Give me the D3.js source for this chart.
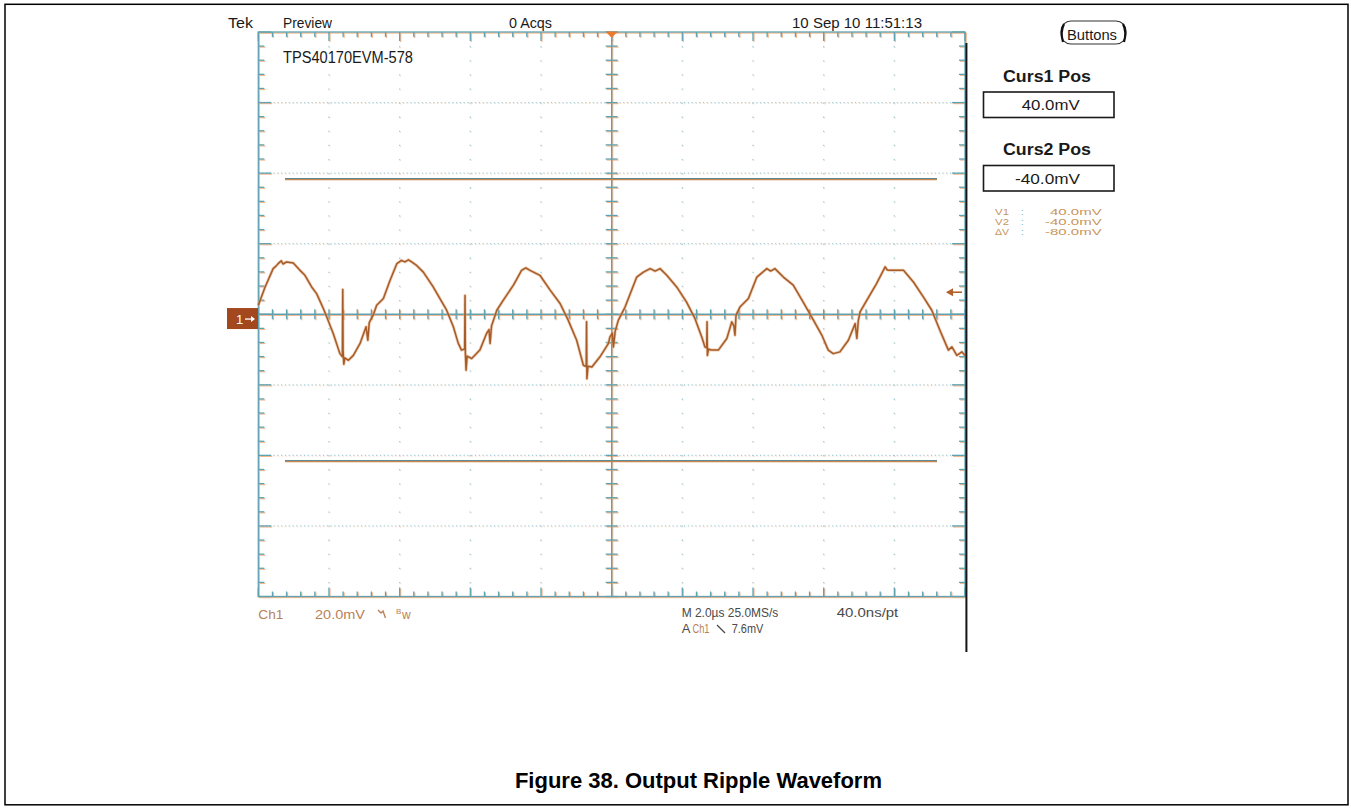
<!DOCTYPE html>
<html><head><meta charset="utf-8">
<script src="https://cdn.jsdelivr.net/npm/d3@7"></script>
<style>body{margin:0;background:#fff}svg{display:block}</style>
</head><body>
<svg id="c" width="1351" height="808"></svg>
<script>
// ---- data (read from the scope capture) ----
const TIME_US = [-10.00,-9.81,-9.58,-9.50,-9.44,-9.35,-9.30,-9.20,-9.01,-8.82,-8.68,-8.49,-8.35,-8.16,-8.07,-7.88,-7.69,-7.62,-7.61,-7.60,-7.58,-7.55,-7.45,-7.31,-7.12,-6.95,-6.90,-6.86,-6.75,-6.65,-6.46,-6.27,-6.08,-5.95,-5.85,-5.75,-5.66,-5.52,-5.33,-5.05,-4.86,-4.67,-4.48,-4.34,-4.25,-4.16,-4.15,-4.14,-4.12,-4.09,-3.96,-3.73,-3.54,-3.47,-3.44,-3.40,-3.25,-3.07,-2.78,-2.55,-2.43,-2.31,-2.03,-1.74,-1.46,-1.23,-0.99,-0.80,-0.72,-0.71,-0.70,-0.67,-0.56,-0.33,-0.09,-0.05,0.02,0.05,0.10,0.19,0.38,0.71,0.90,1.09,1.23,1.37,1.56,1.84,2.12,2.36,2.55,2.64,2.69,2.70,2.71,2.74,2.83,3.02,3.26,3.40,3.46,3.49,3.52,3.63,3.87,4.11,4.39,4.50,4.62,4.86,5.14,5.42,5.71,5.95,6.13,6.27,6.46,6.70,6.89,6.94,6.98,7.03,7.22,7.50,7.74,7.80,7.88,8.26,8.54,8.82,9.06,9.29,9.53,9.63,9.77,9.91,10.00];
const CH1_MV  = [3.9,9.0,14.3,15.0,15.7,16.5,15.6,16.2,15.9,13.8,12.4,9.1,7.2,3.0,0.8,-4.1,-9.8,-10.7,8.4,-9.0,-12.8,-11.0,-11.7,-10.3,-6.9,-2.2,-6.0,-1.0,1.1,3.9,5.8,11.0,15.7,16.6,16.2,16.8,16.2,15.2,13.3,9.1,5.8,2.5,-2.2,-6.9,-8.8,-8.5,6.7,-9.4,-14.5,-10.5,-11.2,-8.8,-4.1,-3.0,-6.9,-2.0,2.5,5.3,9.6,13.8,14.5,13.8,12.4,8.2,4.4,-0.3,-6.0,-13.1,-13.5,-0.8,-16.9,-13.4,-13.6,-10.7,-6.9,-5.1,-4.0,-7.9,-3.5,-0.3,3.4,11.9,13.3,14.3,13.6,14.3,12.4,9.1,4.8,0.1,-5.1,-7.9,-8.2,-0.8,-10.3,-8.5,-8.8,-8.8,-5.5,-0.8,-2.0,-4.6,1.1,3.4,5.8,11.9,14.3,13.6,14.3,11.9,9.6,4.8,-0.3,-4.6,-8.8,-9.8,-9.3,-6.0,-1.3,-5.5,-0.5,2.0,5.3,10.1,14.8,13.9,13.8,13.8,10.5,6.3,2.5,-3.2,-8.8,-7.9,-10.3,-9.3,-10.3];
const CURSOR_MV = [40, -40];
const TRIG_MV = 7.6;
const CH1_CENTER_MV = 1.36;        // ground sits slightly below graticule centre
const MV_PER_DIV = 20, US_PER_DIV = 2;
const HEADER = ["Tek", "Preview", "0 Acqs", "10 Sep 10 11:51:13"];
const NOTE = "TPS40170EVM-578";
const READOUT_LABELS = ["V1", "V2", "\u0394V"];
const READOUT_VALUES = ["40.0mV", "-40.0mV", "-80.0mV"];
const CAPTION = "Figure 38. Output Ripple Waveform";

// ---- layout ----
const L = 258.3, R = 965, T = 32, B = 596.5;
const svg = d3.select("#c");
const FONT = "'Liberation Sans', Arial, Helvetica, sans-serif";
const TEAL = "#5fa2b2", FRINGE = "#f3b890", TRACE = "#a65c28";

const x = d3.scaleLinear().domain([-5 * US_PER_DIV, 5 * US_PER_DIV]).range([L, R]);
const gy = d3.scaleLinear().domain([-4, 4]).range([B, T]);
const y = d3.scaleLinear().domain([CH1_CENTER_MV - 4 * MV_PER_DIV, CH1_CENTER_MV + 4 * MV_PER_DIV]).range([B, T]);

// page border
svg.append("rect").attr("x", 5).attr("y", 4.3).attr("width", 1343).attr("height", 800.5)
  .attr("fill", "none").attr("stroke", "#000").attr("stroke-width", 1.5);

function txt(px, py, s, o = {}) {
  const t = svg.append("text").attr("x", px).attr("y", py).text(s)
    .attr("font-family", FONT).attr("font-size", o.size || 14)
    .attr("font-weight", o.weight || "normal").attr("fill", o.fill || "#1a1a1a")
    .attr("text-anchor", o.anchor || "start");
  if (o.len) t.attr("textLength", o.len).attr("lengthAdjust", "spacingAndGlyphs");
  return t;
}

const g = svg.append("g");
const majX = d3.range(-10, 10.001, 2), minX = d3.range(-10, 10.001, 0.4);
const majY = d3.range(-4, 4.001, 1), minY = d3.range(-4, 4.001, 0.2);

// dotted interior grid
[g.append("g").attr("transform", "translate(0.8,0.8)").attr("stroke", FRINGE).attr("opacity", 0.4),
 g.append("g").attr("stroke", "#a6ced8")].forEach(layer => {
  majX.filter(v => Math.abs(v) > 0.01 && Math.abs(Math.abs(v) - 10) > 0.01).forEach(v =>
    layer.append("line").attr("x1", x(v)).attr("x2", x(v)).attr("y1", T).attr("y2", B)
      .attr("stroke-width", 1.3).attr("stroke-dasharray", "1.3,12.8"));
  majY.filter(v => Math.abs(v) > 0.01 && Math.abs(Math.abs(v) - 4) > 0.01).forEach(v =>
    layer.append("line").attr("x1", L).attr("x2", R).attr("y1", gy(v)).attr("y2", gy(v))
      .attr("stroke-width", 1.2).attr("stroke-dasharray", "1.2,2.6"));
});

// solid frame, centre cross and ticks (with slight orange fringe like the scan)
function drawGrat(layer, col, dx) {
  const s = layer.append("g").attr("transform", `translate(${dx},${dx})`).attr("stroke", col).attr("stroke-width", 1.3).attr("fill", "none");
  s.append("rect").attr("x", L).attr("y", T).attr("width", R - L).attr("height", B - T);
  s.append("line").attr("x1", L).attr("x2", R).attr("y1", gy(0)).attr("y2", gy(0));
  s.append("line").attr("x1", x(0)).attr("x2", x(0)).attr("y1", T).attr("y2", B);
  minX.forEach(v => {
    const isMaj = majX.some(m => Math.abs(m - v) < 1e-6);
    const len = isMaj ? 9 : 5;
    s.append("line").attr("x1", x(v)).attr("x2", x(v)).attr("y1", T).attr("y2", T + len);
    s.append("line").attr("x1", x(v)).attr("x2", x(v)).attr("y1", B).attr("y2", B - len);
    s.append("line").attr("x1", x(v)).attr("x2", x(v)).attr("y1", gy(0) - 5).attr("y2", gy(0) + 5);
  });
  minY.forEach(v => {
    const isMaj = majY.some(m => Math.abs(m - v) < 1e-6);
    const len = isMaj ? 13 : 6;
    s.append("line").attr("x1", L).attr("x2", L + len).attr("y1", gy(v)).attr("y2", gy(v));
    s.append("line").attr("x1", R).attr("x2", R - len).attr("y1", gy(v)).attr("y2", gy(v));
    s.append("line").attr("x1", x(0) - 6).attr("x2", x(0) + 6).attr("y1", gy(v)).attr("y2", gy(v));
  });
}
drawGrat(g, FRINGE, 1);
drawGrat(g, TEAL, 0);

// cursors (teal line with an orange fringe, as in the scan)
CURSOR_MV.forEach(c => {
  const cy = Math.round(y(c)) + 0.5;
  g.append("line").attr("x1", 285).attr("x2", 937).attr("y1", cy + 1).attr("y2", cy + 1)
    .attr("stroke", "#c98450").attr("stroke-width", 1.4);
  g.append("line").attr("x1", 285).attr("x2", 937).attr("y1", cy).attr("y2", cy)
    .attr("stroke", "#5a8d92").attr("stroke-width", 1.1);
});

// trace
const pts = TIME_US.map((t, i) => [t, CH1_MV[i]]);
const line = d3.line().x(d => x(d[0])).y(d => y(d[1]));
g.append("path").attr("d", line(pts)).attr("fill", "none").attr("stroke", "#e0a57a")
  .attr("stroke-width", 3).attr("opacity", 0.6).attr("stroke-linejoin", "round");
g.append("path").attr("d", line(pts)).attr("fill", "none").attr("stroke", TRACE)
  .attr("stroke-width", 1.5).attr("stroke-linejoin", "round");

// trigger position marker (top) and trigger level arrow (right)
g.append("path").attr("d", `M${x(0) - 6},${T - 0.5} L${x(0) + 6},${T - 0.5} L${x(0)},${T + 6} Z`).attr("fill", "#ea7a2e");
const ty = y(TRIG_MV);
g.append("path").attr("d", `M${R - 18},${ty} L${R - 3},${ty}`).attr("stroke", "#b5602c").attr("stroke-width", 1.6);
g.append("path").attr("d", `M${R - 19},${ty} L${R - 12},${ty - 4} L${R - 12},${ty + 4} Z`).attr("fill", "#b5602c");

// channel 1 ground marker
const gy0 = y(0);
svg.append("rect").attr("x", 227).attr("y", gy0 - 11).attr("width", 31).attr("height", 21).attr("fill", "#a3471f");
txt(236, gy0 + 5, "1", { size: 13, fill: "#fff" });
svg.append("path").attr("d", `M245,${gy0} L254,${gy0}`).attr("stroke", "#fff").attr("stroke-width", 1.3);
svg.append("path").attr("d", `M255,${gy0} L251,${gy0 - 3} L251,${gy0 + 3} Z`).attr("fill", "#fff");

// panel divider
svg.append("line").attr("x1", 967.5).attr("x2", 967.5).attr("y1", 43).attr("y2", 652).attr("stroke", "#f0b28a").attr("stroke-width", 1);
svg.append("line").attr("x1", 966.3).attr("x2", 966.3).attr("y1", 43).attr("y2", 652).attr("stroke", "#151515").attr("stroke-width", 1.8);

// header texts
txt(228, 28, HEADER[0], { size: 15, len: 25 });
txt(283, 28, HEADER[1], { size: 15, len: 49 });
txt(509, 28, HEADER[2], { size: 15, len: 43 });
txt(792, 28, HEADER[3], { size: 15, len: 130 });
txt(283, 63.3, NOTE, { size: 16, len: 130 });

// right panel
svg.append("rect").attr("x", 1061).attr("y", 21).attr("width", 65).attr("height", 23).attr("rx", 10)
  .attr("fill", "none").attr("stroke", "#333").attr("stroke-width", 1.1);
svg.append("path").attr("d", "M1064,24 Q1060,32 1063,42").attr("stroke", "#111").attr("stroke-width", 2.2).attr("fill", "none");
svg.append("path").attr("d", "M1123,24 Q1127,32 1124,42").attr("stroke", "#111").attr("stroke-width", 2.2).attr("fill", "none");
txt(1067, 40, "Buttons", { size: 14, len: 50 });

[["Curs1 Pos", 82, 92, "40.0mV", 1021.7, 58], ["Curs2 Pos", 155, 165.5, "-40.0mV", 1015, 65]].forEach(([lab, by, boxY, val, vx, vl]) => {
  txt(1003, by, lab, { size: 16, weight: "bold", len: 88 });
  svg.append("rect").attr("x", 983.5).attr("y", boxY).attr("width", 130.5).attr("height", 25.5)
    .attr("fill", "none").attr("stroke", "#1a1a1a").attr("stroke-width", 1.6);
  txt(vx, boxY + 18, val, { size: 15, len: vl });
});
READOUT_LABELS.forEach((lab, i) => {
  const by = 215 + i * 10;
  txt(995, by, lab, { size: 9.5, fill: "#c9945a", len: 14 });
  txt(1021, by, ":", { size: 9.5, fill: "#6fb3c8" });
  txt(1101.7, by, READOUT_VALUES[i], { size: 9.5, fill: "#c9945a", anchor: "end", len: i === 0 ? 51.7 : 56.7 });
});

// bottom readouts
const CH_COL = "#b98158";
txt(258.3, 619, "Ch1", { size: 13, fill: CH_COL, len: 25 });
txt(315, 619, "20.0mV", { size: 13, fill: CH_COL, len: 50 });
svg.append("path").attr("d", "M378,610 L381,613 L383,611 L385.5,618").attr("stroke", CH_COL).attr("stroke-width", 1.4).attr("fill", "none");
txt(396, 614, "B", { size: 8, fill: CH_COL });
txt(402, 619, "w", { size: 12, fill: CH_COL });
txt(681.7, 617, "M 2.0\u00b5s 25.0MS/s", { size: 13, fill: "#4a4a4a", len: 96.6 });
txt(836.7, 617, "40.0ns/pt", { size: 13, fill: "#4a4a4a", len: 61.6 });
txt(681.7, 633, "A", { size: 13, fill: "#4a4a4a" });
txt(692.5, 633, "Ch1", { size: 13, fill: CH_COL, len: 17 });
svg.append("path").attr("d", "M717,625 L725,633").attr("stroke", "#4a4a4a").attr("stroke-width", 1.2);
txt(731.7, 633, "7.6mV", { size: 13, fill: "#4a4a4a", len: 31.6 });

// caption
txt(882, 788, CAPTION, { size: 22, weight: "bold", anchor: "end", fill: "#000" });
</script>
</body></html>
